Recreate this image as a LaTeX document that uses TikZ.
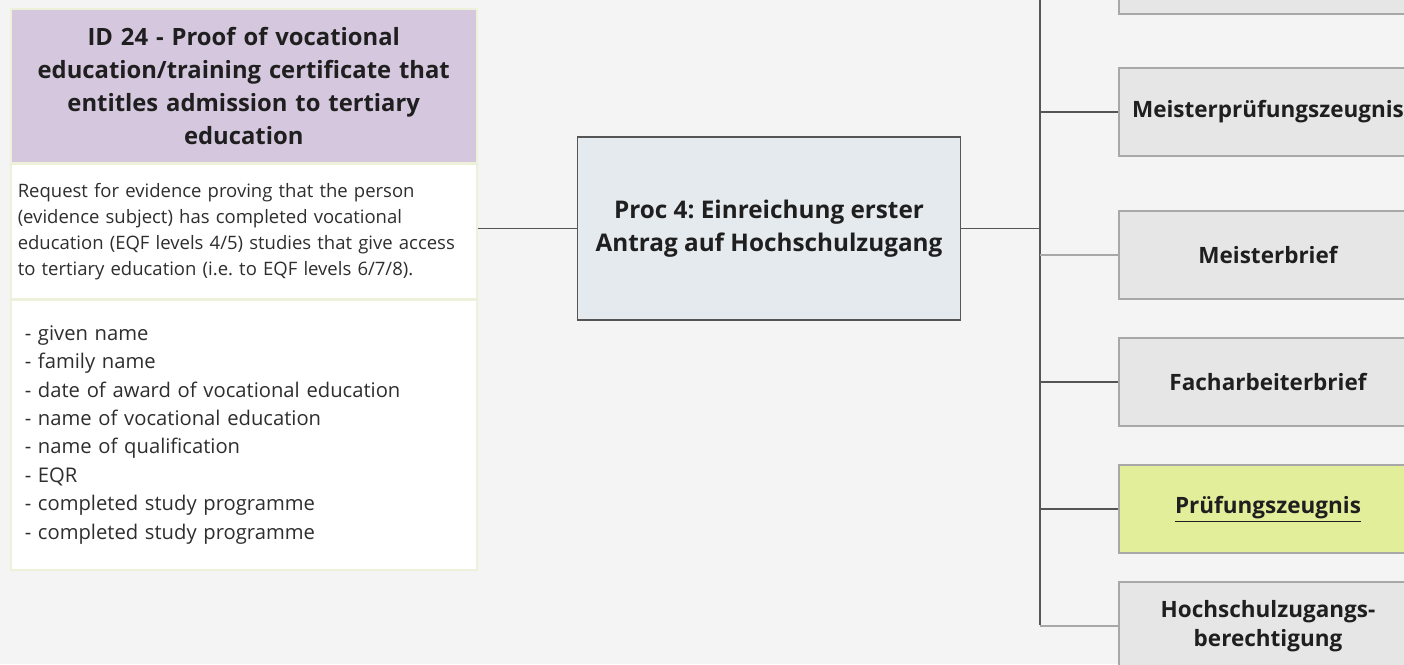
\documentclass[tikz,border=0pt]{standalone}
\usepackage{fontspec}
\setmainfont{Open Sans}
\usetikzlibrary{positioning}
\definecolor{bgc}{HTML}{F4F4F4}
\definecolor{headc}{HTML}{D5C7DE}
\definecolor{cardline}{HTML}{EEF1DA}
\definecolor{procc}{HTML}{E4EAED}
\definecolor{docc}{HTML}{E6E6E6}
\definecolor{docline}{HTML}{A8A8A8}
\definecolor{hitc}{HTML}{E3EE9A}
\definecolor{linkc}{HTML}{555555}
\frenchspacing
\begin{document}
\begin{tikzpicture}[x=1pt,y=-1pt,
cardhead/.style={fill=headc,draw=cardline,line width=1.5pt,align=center,text width=450pt,minimum width=466pt,minimum height=154pt,font=\fontsize{23.8}{33}\selectfont\bfseries,text=black!88},
carddesc/.style={fill=white,draw=cardline,line width=1.5pt,align=left,text width=452pt,inner xsep=7pt,minimum width=466pt,minimum height=134pt,font=\fontsize{18.5}{26}\selectfont,text=black!82},
cardattr/.style={fill=white,draw=cardline,line width=1.5pt,align=left,text width=438pt,inner xsep=14pt,minimum width=466pt,minimum height=270pt,font=\fontsize{20.2}{28.4}\selectfont,text=black!82},
procbox/.style={fill=procc,draw=linkc,line width=1.8pt,align=center,minimum width=383pt,minimum height=183pt,font=\fontsize{24.3}{33}\selectfont\bfseries,text=black!88},
docbox/.style={fill=docc,draw=docline,line width=1.5pt,align=center,minimum width=298pt,minimum height=88pt,font=\fontsize{22.5}{29}\selectfont\bfseries,text=black!88},
hitbox/.style={docbox,fill=hitc},
link/.style={draw=linkc,line width=1.8pt},
softlink/.style={draw=docline,line width=1.8pt}]
\fill[bgc] (0,0) rectangle (1404,664);
\clip (0,0) rectangle (1404,664);
% evidence card
\node[cardhead,anchor=north west](head) at (10,8) {ID 24 - Proof of vocational\\education/training certificate that\\entitles admission to tertiary\\education};
\node[carddesc,below=0pt of head](desc){Request for evidence proving that the person\\(evidence subject) has completed vocational\\education (EQF levels 4/5) studies that give access\\to tertiary education (i.e. to EQF levels 6/7/8).};
\node[cardattr,below=0pt of desc](attrs){- given name\\- family name\\- date of award of vocational education\\- name of vocational education\\- name of qualification\\- EQR\\- completed study programme\\- completed study programme};
% procedure
\node[procbox](proc) at (769,228.5) {Proc 4: Einreichung erster\\Antrag auf Hochschulzugang};
% documents
\coordinate (trunktop) at (1040,0);
\coordinate (trunkbot) at (1040,625);
\node[docbox](doc0) at (1268,-30) {};
\node[docbox](doc1) at (1268,112) {Meisterprüfungszeugnis};
\node[docbox](doc2) at (1268,255) {Meisterbrief};
\node[docbox](doc3) at (1268,382) {Facharbeiterbrief};
\node[hitbox](doc4) at (1268,509) {\underline{Prüfungszeugnis}};
\node[docbox](doc5) at (1268,626) {Hochschulzugangs-\\berechtigung};
\draw[link](proc.west-|desc.east)--(proc.west);
\draw[link](proc.east)--(proc.east-|trunktop);
\draw[link](trunktop)--(trunkbot);
\draw[link](doc1.west-|trunktop)--(doc1.west);
\draw[softlink](doc2.west-|trunktop)--(doc2.west);
\draw[link](doc3.west-|trunktop)--(doc3.west);
\draw[link](doc4.west-|trunktop)--(doc4.west);
\draw[softlink](doc5.west-|trunktop)--(doc5.west);
\end{tikzpicture}
\end{document}
